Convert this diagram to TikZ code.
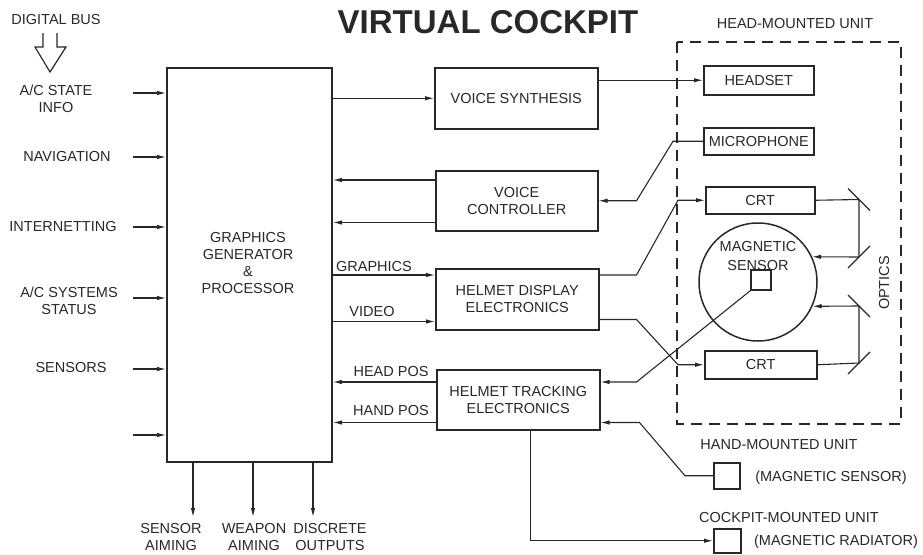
\documentclass[tikz,border=0pt]{standalone}
\usepackage{fontspec}
\setmainfont{Liberation Sans}
\usetikzlibrary{arrows.meta,calc}
\definecolor{ink}{RGB}{40,40,40}
\begin{document}
\begin{tikzpicture}[x=1pt,y=-1pt,
  every node/.style={text=ink,font=\fontsize{14.5}{17}\selectfont},
  lbl/.style={inner sep=0pt,align=center},
  blk/.style={draw=ink,line width=1.5pt,inner sep=0pt,anchor=north west,align=center},
  ln/.style={draw=ink,line width=1.1pt},
  arr/.style={ln,-{Latex[length=9pt,width=4.5pt]}},
  rarr/.style={ln,{Latex[length=9pt,width=4.5pt]}-},
  mirror/.style={draw=ink,line width=1.1pt},
]
\fill[white] (0,0) rectangle (923,554);
\useasboundingbox (0,0) rectangle (923,554);

% title
\node[lbl,font=\fontsize{33}{36}\bfseries\selectfont] (title) at (488,22) {VIRTUAL COCKPIT};

% main box
\node[blk,line width=1.9pt,minimum width=165pt,minimum height=394pt] (gg) at (166,67) {};
\node[lbl] (ggt) at (248,263) {GRAPHICS\\GENERATOR\\\&\\PROCESSOR};

% left labels
\node[lbl] (dbus) at (56,20) {DIGITAL BUS};
\draw[ln,line width=1.2pt] (43,33)--(43,47)--(35,47)--(50,72)--(66,47)--(57,47)--(57,33);
\node[lbl] (ac) at (56,99) {A/C STATE\\INFO};
\node[lbl] (nav) at (67,157) {NAVIGATION};
\node[lbl] (inet) at (63,227) {INTERNETTING};
\node[lbl] (acs) at (69,301) {A/C SYSTEMS\\STATUS};
\node[lbl] (sens) at (71,368) {SENSORS};

\foreach \n/\yy in {1/93,2/157,3/227,4/298,5/369,6/435}{
  \coordinate (in\n) at (133,\yy);
  \draw[arr] (in\n) -- (gg.west |- in\n);
}

% bottom outputs
\foreach \n/\xx in {1/193,2/253,3/313}{
  \coordinate (o\n) at (\xx,517);
  \draw[arr] (gg.south -| o\n) -- (o\n);
}
\node[lbl] (sa) at (171,537) {SENSOR\\AIMING};
\node[lbl] (wa) at (254,537) {WEAPON\\AIMING};
\node[lbl] (dout) at (330,537) {DISCRETE\\OUTPUTS};

% middle blocks
\node[blk,minimum width=163pt,minimum height=61pt] (vs) at (434,67) {VOICE SYNTHESIS};
\node[blk,minimum width=162pt,minimum height=60pt] (vc) at (435,170) {VOICE\\CONTROLLER};
\node[blk,minimum width=163pt,minimum height=61pt] (hde) at (435,268) {HELMET DISPLAY\\ELECTRONICS};
\node[blk,minimum width=163pt,minimum height=60pt] (hte) at (436,369) {HELMET TRACKING\\ELECTRONICS};

% head-mounted unit
\draw[draw=ink,line width=1.5pt,dash pattern=on 11pt off 7pt] (677,42) rectangle (901,424);
\node[lbl] (hmu) at (795,24) {HEAD-MOUNTED UNIT};
\node[blk,minimum width=110pt,minimum height=29pt] (hs) at (703,65) {HEADSET};
\node[blk,minimum width=110pt,minimum height=27pt] (mic) at (703,127) {MICROPHONE};
\node[blk,minimum width=109pt,minimum height=27pt] (crt1) at (705,186) {CRT};
\node[blk,minimum width=112pt,minimum height=28pt] (crt2) at (704,350) {CRT};
\node[draw=ink,line width=1.5pt,circle,minimum size=118pt,inner sep=0pt] (eye) at (758,282) {};
\node[lbl] (ms1) at (758,247) {MAGNETIC};
\node[lbl] (ms2) at (758,266) {SENSOR};
\node[draw=ink,line width=1.5pt,minimum size=20pt,inner sep=0pt] (sq) at (761,280) {};
\node[lbl,rotate=90] (opt) at (884,283) {OPTICS};

% hand / cockpit units
\node[lbl] (hmu2) at (779,445) {HAND-MOUNTED UNIT};
\node[blk,minimum width=26pt,minimum height=26pt] (hand) at (713,462) {};
\node[lbl] (hmag) at (831,478) {(MAGNETIC SENSOR)};
\node[lbl] (cmu) at (789,518) {COCKPIT-MOUNTED UNIT};
\node[blk,minimum width=27pt,minimum height=24pt] (cock) at (713,528) {};
\node[lbl] (cmag) at (836,542) {(MAGNETIC RADIATOR)};

% connectors: graphics generator <-> blocks
\draw[arr] (gg.east |- vs.west) -- (vs.west);
\coordinate (vc1) at ([yshift=-10pt]vc.north west);
\coordinate (vc2) at ([yshift=9pt]vc.south west);
\draw[arr] (vc1) -- (gg.east |- vc1);
\draw[arr] (vc2) -- (gg.east |- vc2);
\coordinate (g1) at ([yshift=-7pt]hde.north west);
\coordinate (g2) at ([yshift=9pt]hde.south west);
\draw[arr] (gg.east |- g1) -- (g1);
\draw[arr] (gg.east |- g2) -- (g2);
\node[lbl] (lgr) at (374,267) {GRAPHICS};
\node[lbl] (lvid) at (372,312) {VIDEO};
\coordinate (t1) at ([yshift=-13pt]hte.north west);
\coordinate (t2) at ([yshift=8pt]hte.south west);
\draw[arr] (t1) -- (gg.east |- t1);
\draw[arr] (t2) -- (gg.east |- t2);
\node[lbl] (lhead) at (391,372) {HEAD POS};
\node[lbl] (lhand) at (391,411) {HAND POS};

% voice
\draw[arr] (vs.east |- hs.west) -- (hs.west);
\draw[rarr] (vc.east) -- ++(38,0) -- ([xshift=-30pt]mic.west) -- (mic.west);

% display
\draw[arr] ([yshift=-7pt]hde.north east) -- ++(37,0) -- ([xshift=-27pt]crt1.west) -- (crt1.west);
\draw[arr] ([yshift=11pt]hde.south east) -- ++(37,0) -- ([xshift=-26pt]crt2.west) -- (crt2.west);

% tracking
\draw[rarr] ([yshift=-13pt]hte.north east) -- ++(36,0) -- (sq.south west);
\draw[rarr] ([yshift=8pt]hte.south east) -- ++(39,0) -- ([xshift=-28pt]hand.west) -- (hand.west);
\coordinate (hb) at ([xshift=12.5pt]hte.south);
\draw[arr] (hb) -- (hb |- cock.west) -- (cock.west);

% optics
\coordinate (m1) at (859,199.5);
\coordinate (m2) at (859,257);
\coordinate (m3) at (859,306);
\coordinate (m4) at (859,363);
\draw[ln] (crt1.east) -- (m1) -- (m2);
\draw[arr] (m2) -- (eye.25);
\draw[ln] (crt2.east) -- (m4) -- (m3);
\draw[arr] (m3) -- (eye.-24);
\draw[mirror] ($(m1)+(-11,-11)$) -- ($(m1)+(11,11)$);
\draw[mirror] ($(m2)+(-11,11)$) -- ($(m2)+(11,-11)$);
\draw[mirror] ($(m3)+(-11,-11)$) -- ($(m3)+(11,11)$);
\draw[mirror] ($(m4)+(-11,11)$) -- ($(m4)+(11,-11)$);
\end{tikzpicture}
\end{document}
